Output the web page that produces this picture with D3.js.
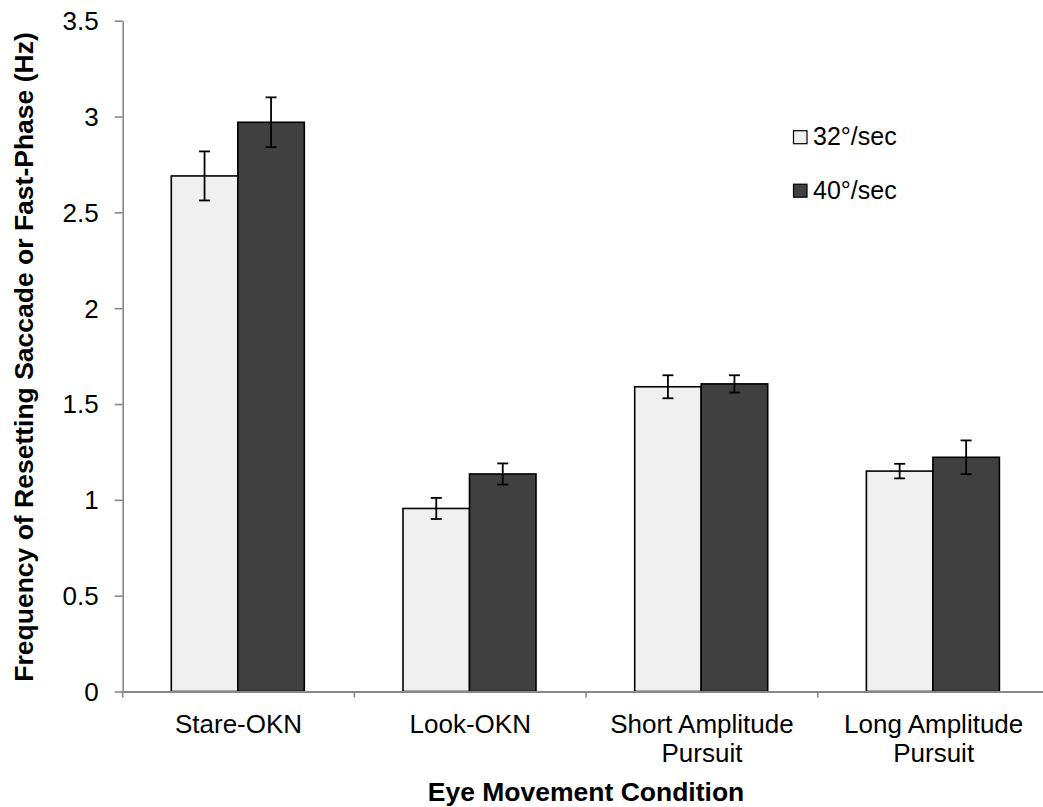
<!DOCTYPE html>
<html><head><meta charset="utf-8">
<script src="https://cdn.jsdelivr.net/npm/d3@7/dist/d3.min.js"></script>
<style>body{margin:0;background:#fff}svg{display:block}text{font-family:"Liberation Sans",Arial,sans-serif}</style>
</head><body><svg id="c" width="1043" height="807"></svg>
<script>
const categories = ["Stare-OKN","Look-OKN","Short Amplitude\nPursuit","Long Amplitude\nPursuit"];
const seriesNames = ["32°/sec","40°/sec"];
const values32 = [2.69, 0.955, 1.59, 1.15];
const values40 = [2.97, 1.135, 1.605, 1.222];
const err32 = [0.128, 0.055, 0.06, 0.038];
const err40 = [0.13, 0.055, 0.045, 0.088];
const yTicks = [0,0.5,1,1.5,2,2.5,3,3.5];
const colors = ["#f0f0f0","#404040"];

const svg = d3.select("#c");
const y = d3.scaleLinear().domain([0,3.5]).range([691.5,20.7]);
const x = d3.scaleBand().domain(categories).range([122.7,1049.5]).padding(0);
const xs = d3.scaleBand().domain(seriesNames).range([48.6, x.bandwidth()-50.1]).padding(0);

const data = categories.map((c,i)=>({c, vals:[
  {s:seriesNames[0], v:values32[i], e:err32[i]},
  {s:seriesNames[1], v:values40[i], e:err40[i]}]}));

// bars
const g = svg.append("g");
const groups = g.selectAll("g.cat").data(data).join("g").attr("transform",d=>`translate(${x(d.c)},0)`);
groups.selectAll("rect").data(d=>d.vals).join("rect")
  .attr("x",d=>xs(d.s)).attr("width",xs.bandwidth())
  .attr("y",d=>y(d.v)).attr("height",d=>y(0)-y(d.v))
  .attr("fill",(d,i)=>colors[i]).attr("stroke","#000").attr("stroke-width",1.6);
// error bars
const eb = groups.selectAll("g.err").data(d=>d.vals).join("g").attr("class","err")
  .attr("stroke","#000").attr("stroke-width",1.8);
eb.append("line").attr("x1",d=>xs(d.s)+xs.bandwidth()/2).attr("x2",d=>xs(d.s)+xs.bandwidth()/2)
  .attr("y1",d=>y(d.v+d.e)).attr("y2",d=>y(d.v-d.e));
eb.append("line").attr("x1",d=>xs(d.s)+xs.bandwidth()/2-5.5).attr("x2",d=>xs(d.s)+xs.bandwidth()/2+5.5)
  .attr("y1",d=>y(d.v+d.e)).attr("y2",d=>y(d.v+d.e));
eb.append("line").attr("x1",d=>xs(d.s)+xs.bandwidth()/2-5.5).attr("x2",d=>xs(d.s)+xs.bandwidth()/2+5.5)
  .attr("y1",d=>y(d.v-d.e)).attr("y2",d=>y(d.v-d.e));

// y axis
const ya = svg.append("g").attr("transform",`translate(122.7,0)`)
  .call(d3.axisLeft(y).tickValues(yTicks).tickFormat(d=>String(d)).tickSize(8).tickSizeOuter(0).tickPadding(16));
ya.selectAll("path,line").attr("stroke","#888").attr("stroke-width",1.6);
ya.selectAll("text").attr("font-size",26).attr("fill","#000").attr("dy","0.34em");

// x axis
const xa = svg.append("g").attr("transform",`translate(0,${y(0)})`)
  .call(d3.axisBottom(x).tickSize(0).tickSizeOuter(0).tickFormat(""));
xa.select("path").attr("stroke","#888").attr("stroke-width",2);
svg.append("g").selectAll("line").data(categories).join("line")
  .attr("x1",d=>x(d)).attr("x2",d=>x(d)).attr("y1",y(0)).attr("y2",y(0)+6)
  .attr("stroke","#888").attr("stroke-width",1.6);
svg.append("g").selectAll("text").data(categories).join("text")
  .attr("x",d=>x(d)+x.bandwidth()/2).attr("y",733).attr("text-anchor","middle").attr("font-size",26)
  .selectAll("tspan").data(d=>d.split("\n")).join("tspan")
  .attr("x",function(){return d3.select(this.parentNode).attr("x");})
  .attr("dy",(d,i)=>i?28.5:0).text(d=>d);

// axis titles
svg.append("text").attr("x",586).attr("y",801).attr("text-anchor","middle")
  .attr("font-size",26.5).attr("font-weight","bold").text("Eye Movement Condition");
svg.append("text").attr("transform","translate(33,357) rotate(-90)").attr("text-anchor","middle")
  .attr("font-size",26.5).attr("font-weight","bold").text("Frequency of Resetting Saccade or Fast-Phase (Hz)");

// legend
const lg = svg.append("g").selectAll("g").data(seriesNames).join("g")
  .attr("transform",(d,i)=>`translate(793.5,${130.7+i*53.5})`);
lg.append("rect").attr("width",13.5).attr("height",13).attr("fill",(d,i)=>colors[i])
  .attr("stroke","#000").attr("stroke-width",1.2);
lg.append("text").attr("x",19.5).attr("y",14.5).attr("font-size",25).text(d=>d);
</script></body></html>
